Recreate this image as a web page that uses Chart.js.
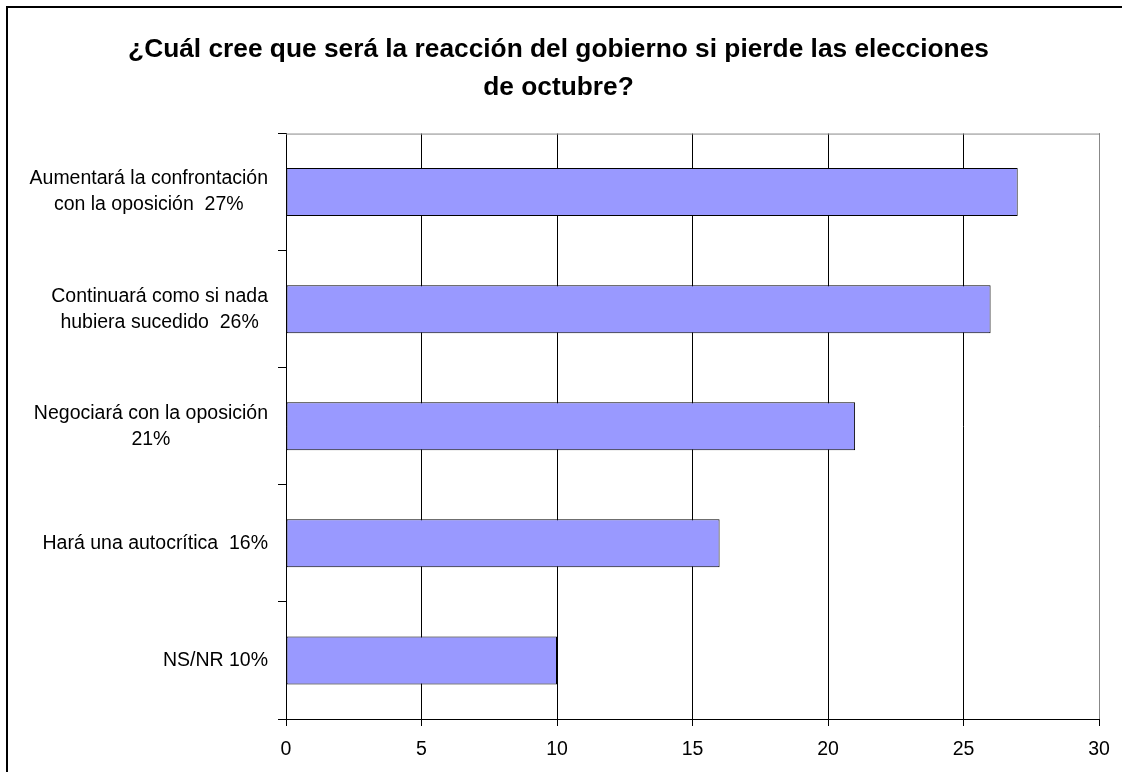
<!DOCTYPE html>
<html>
<head>
<meta charset="utf-8">
<script src="https://cdn.jsdelivr.net/npm/chart.js@4"></script>
<style>
  html, body { margin: 0; padding: 0; background: #fff; }
  #wrap { width: 1122px; height: 772px; }
</style>
</head>
<body>
<div id="wrap"><canvas id="myChart" width="1122" height="772"></canvas></div>
<script>
const titleLines = ["¿Cuál cree que será la reacción del gobierno si pierde las elecciones", "de octubre?"];
const categories = [
  ["Aumentará la confrontación", "con la oposición  27%"],
  ["Continuará como si nada", "hubiera sucedido  26%"],
  ["Negociará con la oposición", "21%"],
  ["Hará una autocrítica  16%"],
  ["NS/NR 10%"]
];
const values = [27, 26, 21, 16, 10];
const xTicks = [0, 5, 10, 15, 20, 25, 30];

const FONT = "'Liberation Sans', Arial, sans-serif";

// frame round the whole chart, plot border and the category labels
const decor = {
  id: "decor",
  beforeDraw: (chart) => {
    const { ctx } = chart;
    ctx.save();
    ctx.fillStyle = "#fff";
    ctx.fillRect(0, 0, chart.width, chart.height);
    ctx.strokeStyle = "#000";
    ctx.lineWidth = 2;
    ctx.strokeRect(7, 7, 3000, 3000);
    ctx.restore();
  },
  afterDraw: (chart) => {
    const { ctx, chartArea } = chart;
    const y = chart.scales.y;
    ctx.save();
    ctx.strokeStyle = "#888";
    ctx.lineWidth = 1;
    ctx.beginPath();
    ctx.moveTo(chartArea.left, chartArea.top + 0.5);
    ctx.lineTo(chartArea.right + 0.5, chartArea.top + 0.5);
    ctx.lineTo(chartArea.right + 0.5, chartArea.bottom);
    ctx.stroke();

    ctx.font = "19.5px " + FONT;
    ctx.fillStyle = "#000";
    ctx.textAlign = "center";
    ctx.textBaseline = "middle";
    const right = chartArea.left - 18;
    const lh = 26;
    categories.forEach((lines, i) => {
      const py = y.getPixelForValue(i);
      const widest = Math.max(...lines.map(l => ctx.measureText(l).width));
      const cx = right - widest / 2;
      const y0 = py - (lines.length - 1) * lh / 2;
      lines.forEach((l, j) => ctx.fillText(l, cx, y0 + j * lh));
    });
    ctx.restore();
  }
};

new Chart(document.getElementById("myChart"), {
  type: "bar",
  data: {
    labels: categories,
    datasets: [{
      data: values,
      backgroundColor: "#9999FF",
      borderColor: "#000",
      borderWidth: 1,
      borderSkipped: false,
      categoryPercentage: 1,
      barPercentage: 0.41
    }]
  },
  options: {
    indexAxis: "y",
    responsive: false,
    animation: false,
    layout: { padding: { left: 18, right: 23, top: 0, bottom: 0 } },
    plugins: {
      legend: { display: false },
      tooltip: { enabled: false },
      title: {
        display: true,
        text: titleLines,
        color: "#000",
        font: { family: FONT, size: 26.3, weight: "bold", lineHeight: 1.45 },
        padding: { top: 31, bottom: 26.3 }
      }
    },
    scales: {
      x: {
        min: 0,
        max: 30,
        afterBuildTicks: (s) => { s.ticks = xTicks.map(v => ({ value: v })); },
        afterFit: (s) => { s.height = 53; },
        grid: { color: "#000", lineWidth: 1, tickLength: 7 },
        border: { color: "#000", width: 1 },
        ticks: { color: "#000", padding: 12, font: { family: FONT, size: 19.5 } }
      },
      y: {
        afterFit: (s) => { s.width = 268; },
        grid: { offset: true, drawOnChartArea: false, color: "#000", tickLength: 8 },
        border: { color: "#000", width: 1 },
        ticks: { display: false }
      }
    }
  },
  plugins: [decor]
});
</script>
</body>
</html>
